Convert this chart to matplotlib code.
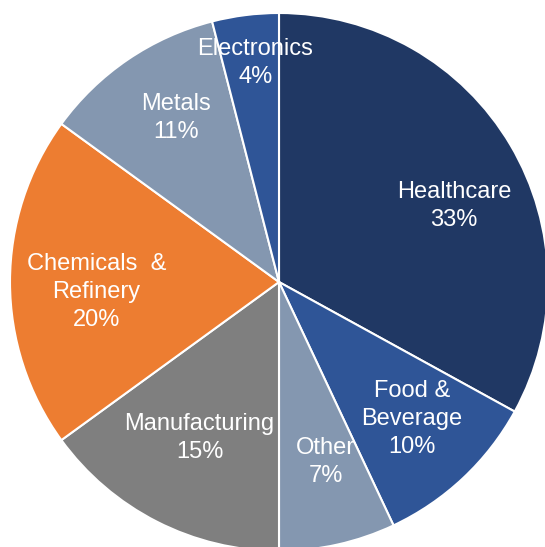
import numpy as np
import matplotlib.pyplot as plt

plt.rcParams['font.family'] = ['Liberation Sans', 'DejaVu Sans']

# sectors, clockwise from 12 o'clock
labels = ["Healthcare", "Food &\nBeverage", "Other", "Manufacturing",
          "Chemicals  &\nRefinery", "Metals", "Electronics"]
shares = [33, 10, 7, 15, 20, 11, 4]

colors = ["#203864", "#2F5597", "#8497B0", "#7F7F7F",
          "#ED7D31", "#8497B0", "#2F5597"]
# label placement: fraction of radius, angle nudge (deg)
label_dist = [0.71, 0.71, 0.69, 0.65, 0.68, 0.72, 0.82]
label_rot = [-7, 1, 2, 0, 3, -2, -1]

W, H = 545, 547
fig = plt.figure(figsize=(W / 100, H / 100), dpi=100)
ax = fig.add_axes([0, 0, 1, 1])

cx, cy, r = 279, H - 282, 269
wedges, _ = ax.pie(shares, colors=colors, startangle=90, counterclock=False,
                   center=(cx, cy), radius=r, frame=True,
                   wedgeprops=dict(edgecolor="white", linewidth=1.5))
ax.set_xlim(0, W)
ax.set_ylim(0, H)
ax.set_aspect('equal')
ax.axis('off')

for w, lab, val, d, rot in zip(wedges, labels, shares, label_dist, label_rot):
    ang = np.deg2rad((w.theta1 + w.theta2) / 2 + rot)
    ax.text(cx + d * r * np.cos(ang), cy + d * r * np.sin(ang),
            f"{lab}\n{val}%", ha="center", va="center",
            color="white", fontsize=17, linespacing=1.35)

fig.savefig("out.png", dpi=100)
